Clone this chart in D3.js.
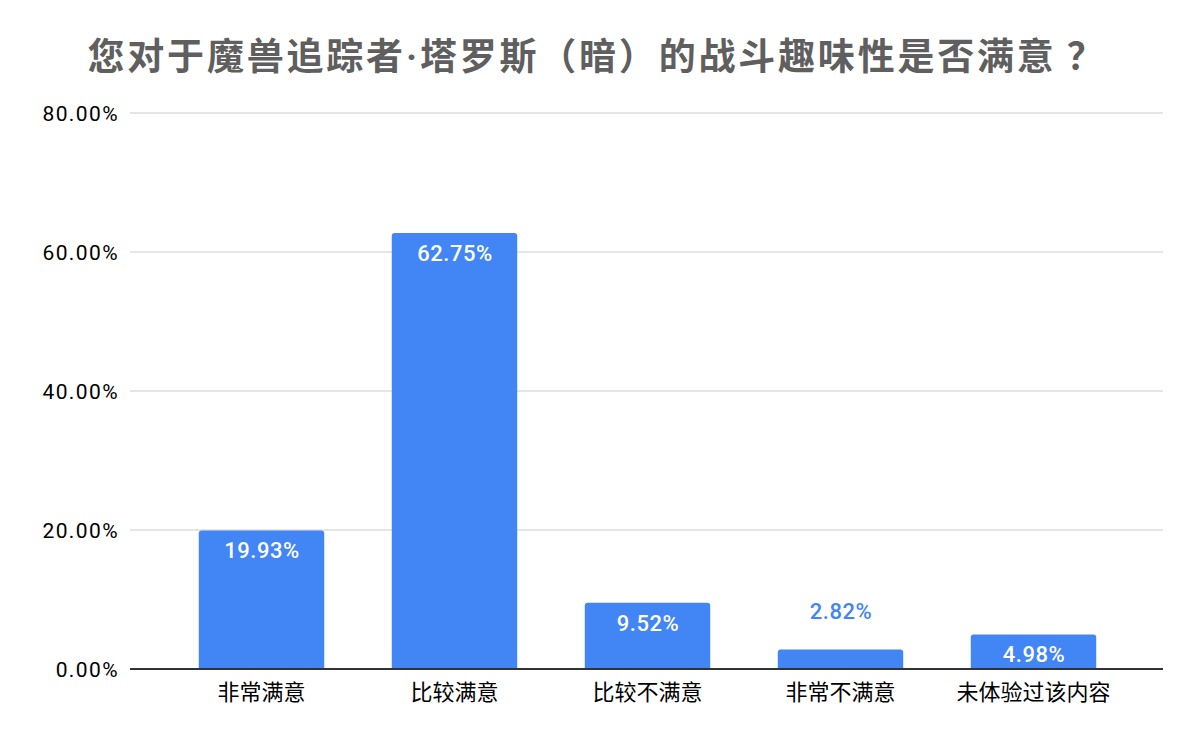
<!DOCTYPE html>
<html>
<head>
<meta charset="utf-8">
<script src="https://cdn.jsdelivr.net/npm/d3@7/dist/d3.min.js"></script>
<style>
  body { margin: 0; background: #fff; }
  svg { display: block; }
</style>
</head>
<body>
<script>
// Chart data
var categories = ["非常满意", "比较满意", "比较不满意", "非常不满意", "未体验过该内容"];
var values = [19.93, 62.75, 9.52, 2.82, 4.98];
var yTicks = [0, 20, 40, 60, 80];
var titleParts = ["您对于魔兽追踪者", "·", "塔罗斯（暗）的战斗趣味性是否满意", "？"];

var width = 1200, height = 742;
var barColor = "#4285f4";
var cjk = "'Noto Sans CJK SC', 'Noto Sans', sans-serif";
var num = "Roboto, 'Noto Sans', sans-serif";

var svg = d3.select("body").append("svg")
    .attr("width", width)
    .attr("height", height);

// Title (middle dot set in a Latin font so it stays narrow)
var titleText = svg.append("text")
    .attr("x", 597)
    .attr("y", 70)
    .attr("text-anchor", "middle")
    .attr("fill", "#5f5f5f")
    .style("font-family", cjk)
    .style("font-weight", "bold")
    .style("font-size", "37px")
    .style("letter-spacing", "2.8px");

titleText.selectAll("tspan")
    .data(titleParts)
    .enter().append("tspan")
    .attr("dx", function(d, i) { return i == 3 ? 10 : 0; })
    .style("font-family", function(d, i) { return i == 1 ? num : cjk; })
    .text(function(d) { return d; });

var plotLeft = 130, plotRight = 1163, plotTop = 113, plotBottom = 669;

var y = d3.scaleLinear().domain([0, 80]).range([plotBottom, plotTop]);
var x = d3.scaleBand()
    .domain(categories)
    .range([165, 1130])
    .paddingInner(0.35)
    .paddingOuter(0.175);

// Gridlines
svg.append("g")
    .selectAll("line")
    .data(yTicks)
    .enter().append("line")
    .attr("x1", plotLeft)
    .attr("x2", plotRight)
    .attr("y1", function(d) { return y(d); })
    .attr("y2", function(d) { return y(d); })
    .attr("stroke", "#cccccc")
    .attr("stroke-width", 1.2);

// Y tick labels
svg.append("g")
    .selectAll("text")
    .data(yTicks)
    .enter().append("text")
    .attr("x", 119)
    .attr("y", function(d) { return y(d); })
    .attr("dy", "0.36em")
    .attr("text-anchor", "end")
    .attr("fill", "#000")
    .style("font-family", num)
    .style("font-size", "21px")
    .style("letter-spacing", "1.4px")
    .text(function(d) { return d.toFixed(2) + "%"; });

// Bars with rounded top corners
function barPath(d, i) {
    var x0 = x(categories[i]), w = x.bandwidth();
    var y0 = y(d), y1 = y(0), r = Math.min(3, (y1 - y0) / 2);
    return "M" + x0 + "," + y1 +
        "V" + (y0 + r) +
        "Q" + x0 + "," + y0 + " " + (x0 + r) + "," + y0 +
        "H" + (x0 + w - r) +
        "Q" + (x0 + w) + "," + y0 + " " + (x0 + w) + "," + (y0 + r) +
        "V" + y1 + "Z";
}

svg.append("g")
    .selectAll("path")
    .data(values)
    .enter().append("path")
    .attr("d", barPath)
    .attr("fill", barColor);

// Value labels: inside the bar when it is tall enough, above it otherwise
function inside(d) { return y(0) - y(d) > 30; }

svg.append("g")
    .selectAll("text")
    .data(values)
    .enter().append("text")
    .attr("x", function(d, i) { return x(categories[i]) + x.bandwidth() / 2 + 0.5; })
    .attr("y", function(d) { return inside(d) ? y(d) + 28 : y(d) - 30; })
    .attr("text-anchor", "middle")
    .attr("fill", function(d) { return inside(d) ? "#fff" : barColor; })
    .style("font-family", num)
    .style("font-size", "22px")
    .style("font-weight", 500)
    .style("letter-spacing", "0.5px")
    .text(function(d) { return d.toFixed(2) + "%"; });

// Baseline
svg.append("line")
    .attr("x1", plotLeft)
    .attr("x2", plotRight)
    .attr("y1", y(0))
    .attr("y2", y(0))
    .attr("stroke", "#333")
    .attr("stroke-width", 2);

// X labels
svg.append("g")
    .selectAll("text")
    .data(categories)
    .enter().append("text")
    .attr("x", function(d) { return x(d) + x.bandwidth() / 2; })
    .attr("y", 700)
    .attr("text-anchor", "middle")
    .attr("fill", "#000")
    .style("font-family", cjk)
    .style("font-size", "22px")
    .text(function(d) { return d; });
</script>
</body>
</html>
